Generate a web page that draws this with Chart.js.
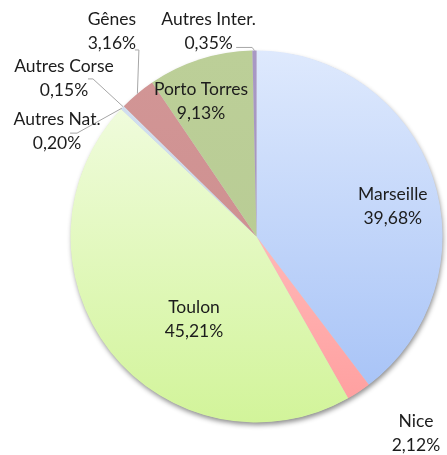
<!DOCTYPE html>
<html>
<head>
<meta charset="utf-8">
<script src="https://cdn.jsdelivr.net/npm/chart.js@4"></script>
<style>
  html, body { margin: 0; padding: 0; background: #ffffff; }
  canvas { display: block; }
</style>
</head>
<body>
<canvas id="c" width="447" height="455"></canvas>
<script>
// ---- data ----
const categories = ['Marseille', 'Nice', 'Toulon', 'Autres Nat.', 'Autres Corse', 'Gênes', 'Porto Torres', 'Autres Inter.'];
const shares = [39.68, 2.12, 45.21, 0.20, 0.15, 3.16, 9.13, 0.35];

// ---- styles ----
const gradTop = ['#dee9fd', '#ffd2d2', '#f5fde8', '#d3e1f3', '#d6e2f1', '#d29696', '#bccf98', '#a898c4'];
const gradBot = ['#a3c0f6', '#ff9d9d', '#d2f49a', '#bcd0ea', '#c3d4ea', '#cc8c8c', '#b6ca92', '#a294c0'];

// label placement: radius factor along slice mid-angle, angle shift (deg)
const labelPlace = [
  { rf: 0.750, da: 6.2 },
  { rf: 1.361, da: -5.7 },
  { rf: 0.559, da: -14.9 },
  { rf: 1.211, da: -15.9 },
  { rf: 1.340, da: -4.8 },
  { rf: 1.348, da: 4.6 },
  { rf: 0.786, da: -4.6 },
  { rf: 1.132, da: -12.5 }
];
// leader line points relative to label anchor, ending at slice edge
const leaders = {
  3: [[13, 1.3], [20, 1.3]],
  4: [[24, 0.7], [29, 0.7]],
  5: [[23, 18.3], [27, 18.3]],
  7: [[27.5, 16], [43.5, 16]]
};

const fmt = v => v.toFixed(2).replace('.', ',') + '%';

function makeGrad(ctx, chartArea, i) {
  const g = ctx.createLinearGradient(0, chartArea.top, 0, chartArea.bottom);
  g.addColorStop(0, gradTop[i]);
  g.addColorStop(1, gradBot[i]);
  return g;
}

const shadowPlugin = {
  id: 'pieShadow',
  beforeDatasetsDraw(chart) {
    const meta = chart.getDatasetMeta(0);
    const a = meta.data[0];
    if (!a) return;
    const { x, y, outerRadius } = a.getProps(['x', 'y', 'outerRadius'], true);
    const ctx = chart.ctx;
    ctx.save();
    ctx.shadowColor = 'rgba(0,0,0,0.45)';
    ctx.shadowBlur = 5;
    ctx.shadowOffsetX = 1;
    ctx.shadowOffsetY = 3;
    ctx.beginPath();
    ctx.arc(x, y, outerRadius - 0.5, 0, Math.PI * 2);
    ctx.fillStyle = '#d0d0d0';
    ctx.fill();
    ctx.restore();
  }
};

const labelPlugin = {
  id: 'pieLabels',
  afterDatasetsDraw(chart) {
    const ctx = chart.ctx;
    const meta = chart.getDatasetMeta(0);
    ctx.save();
    ctx.font = '17.5px Lato';
    ctx.fillStyle = '#1c1c1c';
    ctx.textAlign = 'center';
    ctx.textBaseline = 'middle';
    meta.data.forEach((arc, i) => {
      const p = arc.getProps(['x', 'y', 'startAngle', 'endAngle', 'outerRadius'], true);
      const mid = (p.startAngle + p.endAngle) / 2;
      const ang = mid + labelPlace[i].da * Math.PI / 180;
      const r = p.outerRadius * labelPlace[i].rf;
      const lx = p.x + r * Math.cos(ang);
      const ly = p.y + r * Math.sin(ang);
      if (leaders[i]) {
        ctx.beginPath();
        ctx.strokeStyle = '#a6a6a6';
        ctx.lineWidth = 1;
        leaders[i].forEach((pt, k) => {
          const px = lx + pt[0], py = ly + pt[1];
          if (k === 0) ctx.moveTo(px, py); else ctx.lineTo(px, py);
        });
        ctx.lineTo(p.x + p.outerRadius * Math.cos(mid), p.y + p.outerRadius * Math.sin(mid));
        ctx.stroke();
      }
      ctx.fillText(categories[i], lx, ly - 12);
      ctx.fillText(fmt(shares[i]), lx, ly + 12);
    });
    ctx.restore();
  }
};

new Chart(document.getElementById('c'), {
  type: 'pie',
  data: {
    labels: categories,
    datasets: [{
      data: shares,
      backgroundColor: (c) => {
        const { ctx, chartArea } = c.chart;
        if (!chartArea) return gradTop[c.dataIndex];
        return makeGrad(ctx, chartArea, c.dataIndex);
      },
      borderWidth: 0,
      hoverOffset: 0,
      offset: 0
    }]
  },
  options: {
    responsive: false,
    animation: false,
    events: [],
    layout: { padding: { left: 70.5, top: 50.5, right: 4.5, bottom: 32.5 } },
    plugins: {
      legend: { display: false },
      tooltip: { enabled: false }
    }
  },
  plugins: [shadowPlugin, labelPlugin]
});
</script>
</body>
</html>
